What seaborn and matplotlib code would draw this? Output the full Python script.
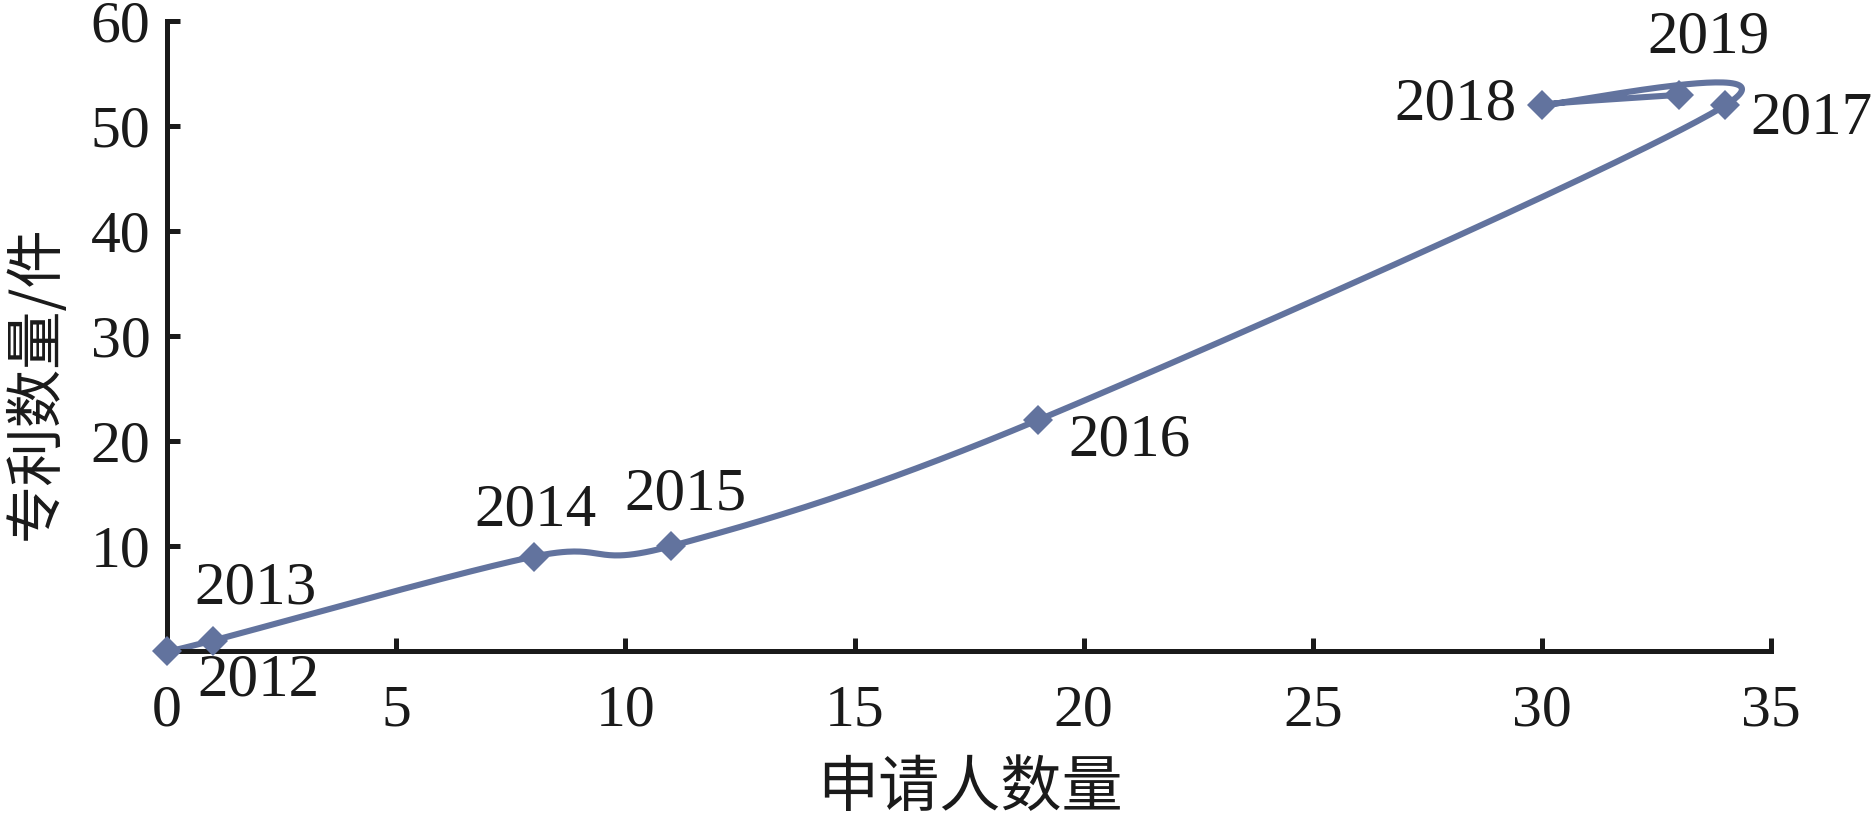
import numpy as np
import pandas as pd
import matplotlib
matplotlib.use("Agg")
import matplotlib.pyplot as plt
import seaborn as sns

# ---- data ----
years = ["2012", "2013", "2014", "2015", "2016", "2017", "2018", "2019"]
applicants = [0, 1, 8, 11, 19, 34, 30, 33]
patents = [0, 1, 9, 10, 22, 52, 52, 53]
x_ticks = [0, 5, 10, 15, 20, 25, 30, 35]
y_ticks = [10, 20, 30, 40, 50, 60]
x_label = "申请人数量"
y_label = "专利数量/件"

# label offsets in pixels (dx, dy), style only
label_offsets = [(91, -30), (43, 52), (2, 46), (14, 51), (92, -21), (86, -13), (-86, 1), (29, 57)]

color = "#62739e"

sns.set_style("ticks")
plt.rcParams["font.family"] = ["Liberation Serif", "Noto Sans CJK SC", "DejaVu Sans"]


def smooth_path(xs, ys, n=60):
    """Excel-like smoothed line (Catmull-Rom as cubic Bezier) through the data points."""
    P = np.column_stack([xs, ys]).astype(float)
    m = len(P)
    out = []
    for i in range(m - 1):
        p0 = P[i - 1] if i > 0 else P[i]
        p1 = P[i]
        p2 = P[i + 1]
        p3 = P[i + 2] if i + 2 < m else P[i + 1]
        c1 = p1 + (p2 - p0) / 6.0
        c2 = p2 - (p3 - p1) / 6.0
        t = np.linspace(0, 1, n)[:, None]
        seg = ((1 - t) ** 3) * p1 + 3 * ((1 - t) ** 2) * t * c1 + 3 * (1 - t) * t ** 2 * c2 + t ** 3 * p2
        out.append(seg if i == 0 else seg[1:])
    pts = np.vstack(out)
    return pd.DataFrame({"x": pts[:, 0], "y": pts[:, 1], "order": np.arange(len(pts))})


df = pd.DataFrame({"year": years, "applicants": applicants, "patents": patents})
curve = smooth_path(applicants, patents)

fig = plt.figure(figsize=(18.73, 8.22), dpi=100)
ax = fig.add_axes([0.0892, 0.208, 0.8564, 0.766])

sns.lineplot(data=curve, x="x", y="y", sort=False, estimator=None, color=color,
             linewidth=4.4, ax=ax, clip_on=False)
ax.plot(df["applicants"], df["patents"], linestyle="none", marker="D", markersize=15,
        color=color, markeredgewidth=0, clip_on=False, zorder=5)

for yr, xv, yv, (dx, dy) in zip(years, applicants, patents, label_offsets):
    ax.annotate(yr, (xv, yv), xytext=(dx, dy), textcoords="offset pixels",
                ha="center", va="center", fontsize=44, color="#1a1a1a",
                family=["Liberation Serif"])

ax.set_xlim(0, 35)
ax.set_ylim(0, 60)
ax.set_xticks(x_ticks)
ax.set_yticks(y_ticks)
ax.set_xticklabels([str(v) for v in x_ticks])
ax.set_yticklabels([str(v) for v in y_ticks])

for s in ["top", "right"]:
    ax.spines[s].set_visible(False)
for s in ["left", "bottom"]:
    ax.spines[s].set_linewidth(3.6)
    ax.spines[s].set_color("#1a1a1a")

ax.tick_params(axis="both", direction="in", length=9.5, width=3.6, colors="#1a1a1a",
               labelsize=43)
ax.tick_params(axis="x", pad=24)
ax.tick_params(axis="y", pad=12)

ax.set_xlabel(x_label, fontsize=44, color="#1a1a1a", family=["Noto Sans CJK SC"],
              va="center")
ax.set_ylabel(y_label, fontsize=42, color="#1a1a1a", family=["Noto Sans CJK SC"],
              va="center")
ax.xaxis.set_label_coords(0.5006, -0.218)
ax.yaxis.set_label_coords(-0.0817, 0.427)

fig.savefig("out.png", dpi=100)
